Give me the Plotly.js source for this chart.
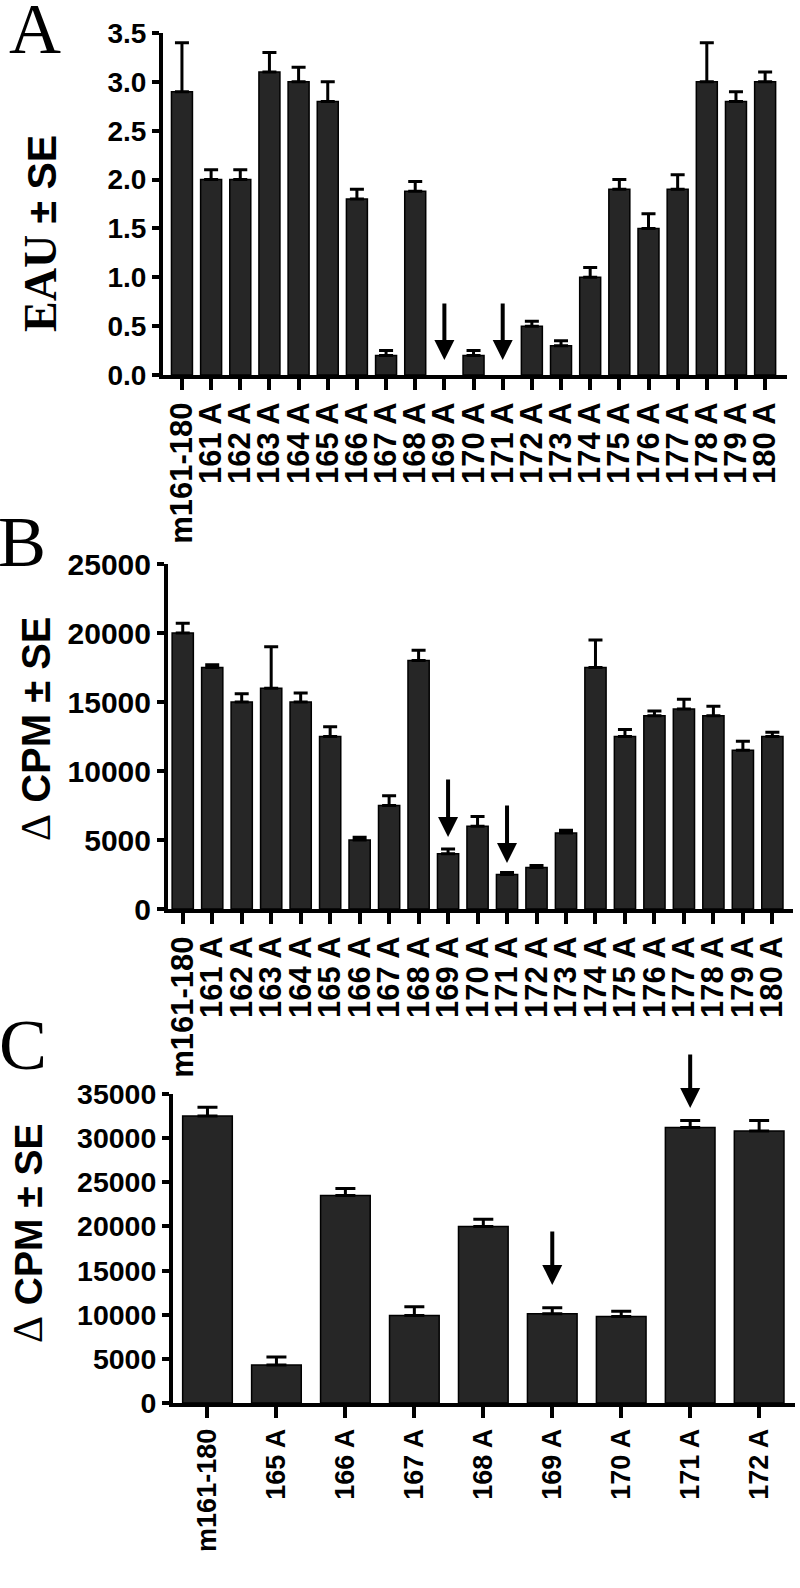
<!DOCTYPE html>
<html>
<head>
<meta charset="utf-8">
<script src="https://cdn.plot.ly/plotly-3.0.1.min.js"></script>
<style>html,body{margin:0;padding:0;background:#fff;}#chart{width:800px;height:1588px;}</style>
</head>
<body>
<div id="chart"></div>
<script>
// ---------- data ----------
const catsAB = ["m161-180","161 A","162 A","163 A","164 A","165 A","166 A","167 A","168 A","169 A","170 A","171 A","172 A","173 A","174 A","175 A","176 A","177 A","178 A","179 A","180 A"];
const eauA   = [2.9, 2.0, 2.0, 3.1, 3.0, 2.8, 1.8, 0.2, 1.88, 0, 0.2, 0, 0.5, 0.3, 1.0, 1.9, 1.5, 1.9, 3.0, 2.8, 3.0];
const eauSE  = [0.5, 0.1, 0.1, 0.2, 0.15, 0.2, 0.1, 0.05, 0.1, 0, 0.05, 0, 0.05, 0.05, 0.1, 0.1, 0.15, 0.15, 0.4, 0.1, 0.1];
const cpmB   = [20000, 17500, 15000, 16000, 15000, 12500, 5000, 7500, 18000, 4000, 6000, 2500, 3000, 5500, 17500, 12500, 14000, 14500, 14000, 11500, 12500];
const cpmBSE = [700, 200, 600, 3000, 650, 700, 200, 700, 750, 350, 700, 150, 150, 200, 2000, 500, 350, 700, 700, 650, 300];
const catsC  = ["m161-180","165 A","166 A","167 A","168 A","169 A","170 A","171 A","172 A"];
const cpmC   = [32500, 4300, 23500, 9900, 20000, 10100, 9800, 31200, 30800];
const cpmCSE = [1000, 900, 800, 1000, 800, 700, 600, 800, 1200];
const ticksA = [0, 0.5, 1.0, 1.5, 2.0, 2.5, 3.0, 3.5];
const ticksB = [0, 5000, 10000, 15000, 20000, 25000];
const ticksC = [0, 5000, 10000, 15000, 20000, 25000, 30000, 35000];
// arrows: [category, tip value]
const arrowsA = [["169 A", 0.154], ["171 A", 0.154]];
const arrowsB = [["169 A", 5220], ["171 A", 3335]];
const arrowsC = [["169 A", 13370], ["171 A", 33420]];

// ---------- styling ----------
const SANS = "Liberation Sans, Arial, sans-serif";
const SERIF = "Liberation Serif, Times New Roman, serif";
const W = 800, H = 1588;
const px = v => v / W;
const py = v => 1 - v / H;

function barTrace(cats, vals, errs, xa, ya) {
  return {
    type: "bar", x: cats, y: vals, xaxis: xa, yaxis: ya,
    marker: {color: "#262626", line: {color: "#000", width: vals.map(v => v > 0 ? 1.5 : 0)}},
    error_y: {type: "data", symmetric: false,
              array: errs.map(e => e > 0 ? e : NaN), arrayminus: errs.map(e => e > 0 ? 0 : NaN),
              color: "#000", thickness: 3, width: xa === "x3" ? 10 : 7},
    showlegend: false, hoverinfo: "x+y"
  };
}

const data = [
  barTrace(catsAB, eauA, eauSE, "x", "y"),
  barTrace(catsAB, cpmB, cpmBSE, "x2", "y2"),
  barTrace(catsC, cpmC, cpmCSE, "x3", "y3")
];

function xAxis(cats, dom, rng, fs, anchor) {
  return {
    domain: dom, anchor: anchor, type: "category", range: rng,
    tickmode: "array", tickvals: cats, ticktext: cats,
    tickangle: -90, ticks: "outside", ticklen: 11, tickwidth: 4, tickcolor: "#000",
    showline: true, linewidth: 4, linecolor: "#000", showgrid: false, zeroline: false,
    tickfont: {family: SANS, size: fs, color: "#000", weight: "bold"}, fixedrange: true
  };
}
function yAxis(dom, rng, tv, tt, fs, anchor) {
  return {
    domain: dom, anchor: anchor, range: rng, tickmode: "array", tickvals: tv, ticktext: tt,
    ticks: "outside", ticklen: 7, tickwidth: 4, tickcolor: "#000",
    showline: true, linewidth: 4, linecolor: "#000", showgrid: false, zeroline: false,
    tickfont: {family: SANS, size: fs, color: "#000", weight: "bold"}, fixedrange: true
  };
}

function arrowAnn(list, xa, ya, len) {
  return list.map(([c, v]) => ({
    x: c, y: v, xref: xa, yref: ya, ax: 0, ay: -len, text: "",
    showarrow: true, arrowhead: 2, arrowsize: 1, arrowwidth: 4, arrowcolor: "#000"
  }));
}

const titleFont = {family: SANS, size: 41, color: "#000", weight: "bold"};
const letterFont = {family: SERIF, size: 72, color: "#000"};

const annotations = [
  {xref: "paper", yref: "paper", x: px(40), y: py(234), xanchor: "center", yanchor: "middle", textangle: -90, showarrow: false,
   text: '<span style="font-family:Liberation Serif, Times New Roman, serif;font-size:46px">EAU</span> ± SE', font: titleFont},
  {xref: "paper", yref: "paper", x: px(36), y: py(729), xanchor: "center", yanchor: "middle", textangle: -90, showarrow: false,
   text: '<span style="font-family:Liberation Serif, Times New Roman, serif;font-weight:normal;font-size:42px">Δ</span> CPM ± SE', font: {family: SANS, size: 40, color: "#000", weight: "bold"}},
  {xref: "paper", yref: "paper", x: px(28), y: py(1233), xanchor: "center", yanchor: "middle", textangle: -90, showarrow: false,
   text: '<span style="font-family:Liberation Serif, Times New Roman, serif;font-weight:normal;font-size:42px">Δ</span> CPM ± SE', font: {family: SANS, size: 39, color: "#000", weight: "bold"}},
  {xref: "paper", yref: "paper", x: px(35), y: py(29), xanchor: "center", yanchor: "middle", showarrow: false, text: "A", font: letterFont},
  {xref: "paper", yref: "paper", x: px(22), y: py(542), xanchor: "center", yanchor: "middle", showarrow: false, text: "B", font: letterFont},
  {xref: "paper", yref: "paper", x: px(23), y: py(1045), xanchor: "center", yanchor: "middle", showarrow: false, text: "C", font: letterFont}
].concat(arrowAnn(arrowsA, "x", "y", 58), arrowAnn(arrowsB, "x2", "y2", 59), arrowAnn(arrowsC, "x3", "y3", 55));

const layout = {
  width: W, height: H, margin: {l: 0, r: 0, t: 0, b: 0, pad: 0},
  paper_bgcolor: "#fff", plot_bgcolor: "#fff", bargap: 0.28,
  xaxis:  xAxis(catsAB, [px(163), px(787)], [-0.65, 20.75], 31, "y"),
  yaxis:  yAxis([py(375), py(33)], [0, 3.5], ticksA, ticksA.map(v => v.toFixed(1)), 28, "x"),
  xaxis2: xAxis(catsAB, [px(168), px(793)], [-0.5, 20.7], 31, "y2"),
  yaxis2: yAxis([py(909), py(564)], [0, 25000], ticksB, ticksB.map(String), 30, "x2"),
  xaxis3: xAxis(catsC, [px(173), px(795)], [-0.5, 8.52], 27, "y3"),
  yaxis3: yAxis([py(1403), py(1094)], [0, 35000], ticksC, ticksC.map(String), 28.5, "x3"),
  annotations: annotations
};

Plotly.newPlot("chart", data, layout, {displayModeBar: false, staticPlot: true});
</script>
</body>
</html>
